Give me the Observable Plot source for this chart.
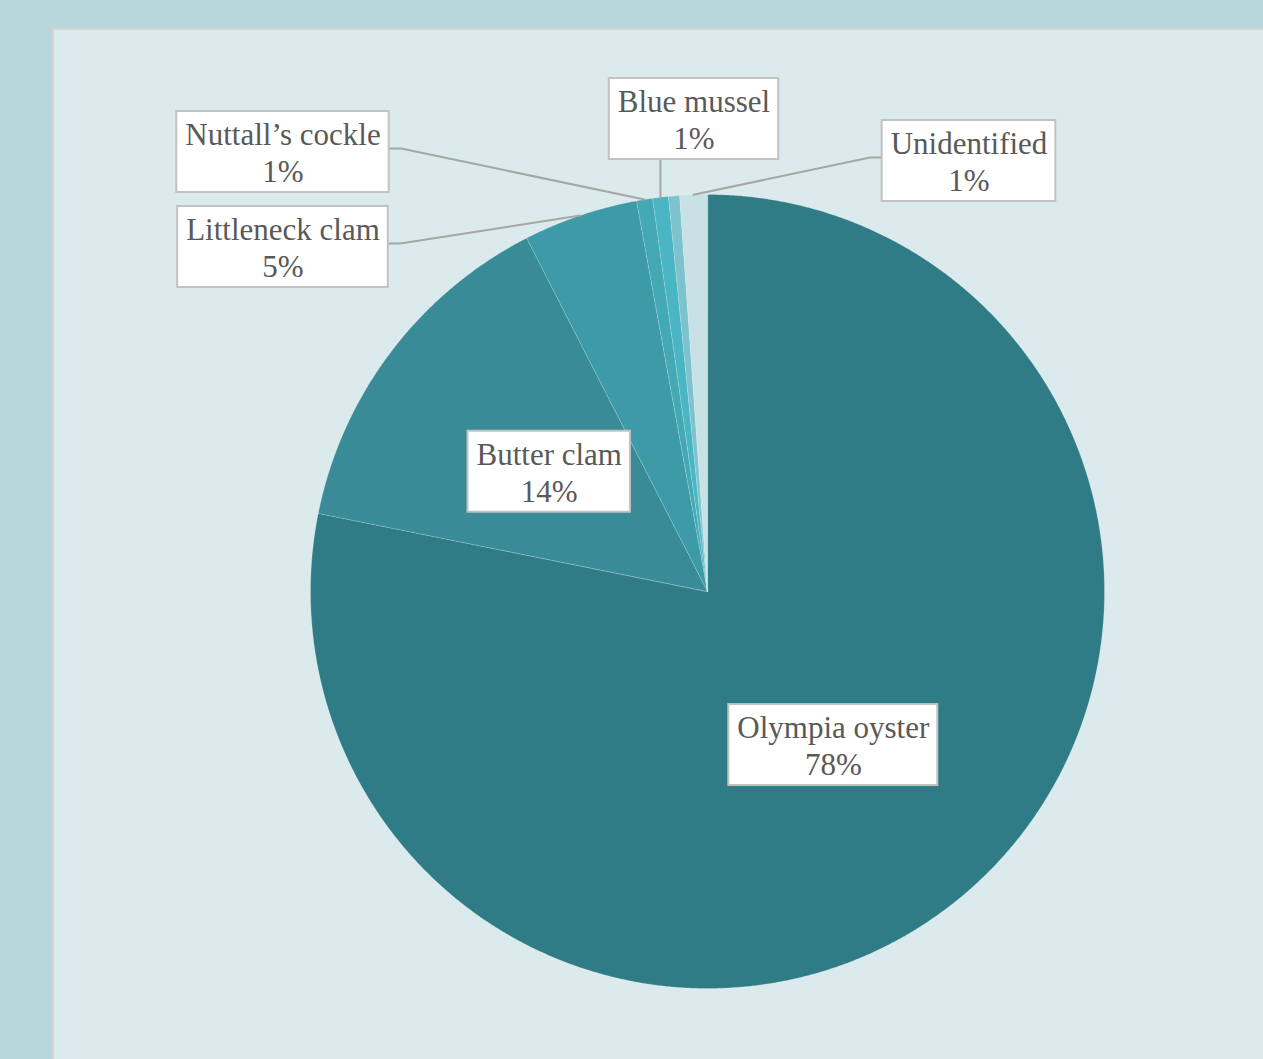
<!DOCTYPE html>
<html><head><meta charset="utf-8">
<script src="https://cdn.jsdelivr.net/npm/d3@7"></script>
<script src="https://cdn.jsdelivr.net/npm/@observablehq/plot@0.6"></script>
<style>
html,body{margin:0;padding:0;background:#b7d7dc;}
#wrap{position:relative;width:1263px;height:1059px;overflow:hidden;background:#b7d7dc;}
#panel{position:absolute;left:52px;top:28px;width:1260px;height:1100px;background:#dbeaed;border-left:2px solid #d3d6d8;border-top:2px solid #d3d6d8;}
#chart{position:absolute;left:0;top:0;}
#chart svg{background:transparent;overflow:visible;}
</style></head><body>
<div id="wrap"><div id="panel"></div><div id="chart"></div></div>
<script>
// ---- data ----
const species = ["Olympia oyster","Butter clam","Littleneck clam","Nuttall’s cockle","Blue mussel","Other","Unidentified"];
const shares  = [78.15, 14.32, 4.67, 0.65, 0.64, 0.45, 1.12];
const colors  = ["#2f7c86","#398c97","#3d9ba8","#44a8b5","#4ab5c3","#7cc3ce","#c8e1e5"];
const labelled = [true, true, true, true, true, false, true];

// ---- layout (label placement, data units = pie radii) ----
const outerLabels = {
  "Nuttall’s cockle": {cx: -1.0693, cy: 1.1071, side: "right"},
  "Littleneck clam":  {cx: -1.0693, cy: 0.8678, side: "right"},
  "Blue mussel":      {cx: -0.0340, cy: 1.1902, side: "bottom"},
  "Unidentified":     {cx:  0.6587, cy: 1.0844, side: "left"}
};
const W = 1263, H = 1059, R = 397;
const CX = 707, CY = 591;
const FONT = 31, FAMILY = "Liberation Serif";

const pie = d3.pie().sort(null).value(d => d.value).startAngle(0).endAngle(2 * Math.PI);
const rows = species.map((s, i) => ({name: s, value: shares[i], color: colors[i], show: labelled[i]}));
const arcs = pie(rows);

// slice polygons in data units
const slices = arcs.map(a => {
  const pts = [{x: 0, y: 0}];
  const n = Math.max(2, Math.ceil((a.endAngle - a.startAngle) / (Math.PI / 720)));
  for (let k = 0; k <= n; k++) {
    const t = a.startAngle + (a.endAngle - a.startAngle) * k / n;
    pts.push({x: Math.sin(t), y: Math.cos(t)});
  }
  return {color: a.data.color, pts};
});

// measure text
const ctx = document.createElement("canvas").getContext("2d");
ctx.font = `${FONT}px 'Liberation Serif'`;
const padX = 8.5, boxH = 81;

const labels = [];
const boxes = [];
const leaders = [];
arcs.forEach(a => {
  if (!a.data.show) return;
  const pct = Math.round(a.data.value) + "%";
  const text = a.data.name + "\n" + pct;
  const w = Math.max(ctx.measureText(a.data.name).width, ctx.measureText(pct).width) + 2 * padX;
  const mid = (a.startAngle + a.endAngle) / 2;
  let cx, cy;
  const o = outerLabels[a.data.name];
  if (o) { cx = o.cx; cy = o.cy; } else { cx = 0.5 * Math.sin(mid); cy = 0.5 * Math.cos(mid); }
  const hw = w / 2 / R, hh = boxH / 2 / R;
  labels.push({x: cx, y: cy, text});
  boxes.push({x1: cx - hw, x2: cx + hw, y1: cy - hh, y2: cy + hh});
  if (o) {
    const ex = Math.sin(mid), ey = Math.cos(mid);
    const el = 12 / R, ly = cy + 3.5 / R;
    let pts;
    if (o.side === "right") pts = [{x: cx + hw, y: ly}, {x: cx + hw + el, y: ly}, {x: ex, y: ey}];
    else if (o.side === "left") pts = [{x: cx - hw, y: ly}, {x: cx - hw - el, y: ly}, {x: ex, y: ey}];
    else pts = [{x: ex, y: cy - hh}, {x: ex, y: ey}];
    pts.forEach(p => leaders.push({...p, key: a.data.name}));
  }
});

const marks = [];
slices.forEach(s => marks.push(Plot.line(s.pts, {x: "x", y: "y", curve: "linear-closed", fill: s.color, stroke: "#ffffff", strokeOpacity: 0.25, strokeWidth: 0.8})));
marks.push(Plot.line(leaders, {x: "x", y: "y", z: "key", stroke: "#a6a6a6", strokeWidth: 2}));
marks.push(Plot.rect(boxes, {x1: "x1", x2: "x2", y1: "y1", y2: "y2", fill: "#ffffff", stroke: "#c2c2c2", strokeWidth: 2}));
marks.push(Plot.text(labels, {x: "x", y: "y", text: "text", fontSize: FONT, fontFamily: FAMILY, fill: "#595959", lineHeight: 1.19, dy: 0}));

const chart = Plot.plot({
  width: W, height: H,
  marginLeft: CX - R, marginRight: W - (CX + R),
  marginTop: CY - R, marginBottom: H - (CY + R),
  x: {domain: [-1, 1], axis: null},
  y: {domain: [-1, 1], axis: null},
  style: {background: "transparent", overflow: "visible"},
  marks
});
document.getElementById("chart").appendChild(chart);
</script>
</body></html>
